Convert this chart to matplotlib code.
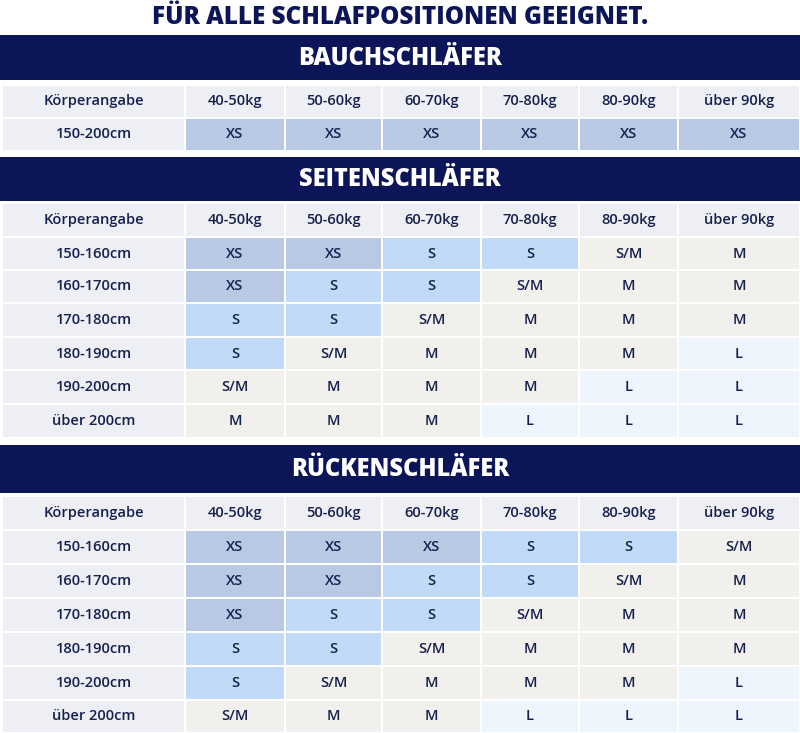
import matplotlib
matplotlib.use("Agg")
import matplotlib.pyplot as plt
from matplotlib.patches import Rectangle

title = "FÜR ALLE SCHLAFPOSITIONEN GEEIGNET."
weights = ["40-50kg", "50-60kg", "60-70kg", "70-80kg", "80-90kg", "über 90kg"]
corner = "Körperangabe"
bauch_name = "BAUCHSCHLÄFER"
bauch_heights = ["150-200cm"]
bauch_sizes = [["XS", "XS", "XS", "XS", "XS", "XS"]]
heights6 = ["150-160cm", "160-170cm", "170-180cm", "180-190cm", "190-200cm", "über 200cm"]
seiten_name = "SEITENSCHLÄFER"
seiten_sizes = [
    ["XS", "XS", "S", "S", "S/M", "M"],
    ["XS", "S", "S", "S/M", "M", "M"],
    ["S", "S", "S/M", "M", "M", "M"],
    ["S", "S/M", "M", "M", "M", "L"],
    ["S/M", "M", "M", "M", "L", "L"],
    ["M", "M", "M", "L", "L", "L"],
]
ruecken_name = "RÜCKENSCHLÄFER"
ruecken_sizes = [
    ["XS", "XS", "XS", "S", "S", "S/M"],
    ["XS", "XS", "S", "S", "S/M", "M"],
    ["XS", "S", "S", "S/M", "M", "M"],
    ["S", "S", "S/M", "M", "M", "M"],
    ["S", "S/M", "M", "M", "M", "L"],
    ["S/M", "M", "M", "L", "L", "L"],
]

colors = {"XS": "#b9c9e3", "S": "#c1daf8", "S/M": "#f1f0ec", "M": "#f1f0ec", "L": "#eef5fd"}
hdr = "#eeeff4"
navy = "#0b1558"
txt = "#16204f"
FONT = "Open Sans"

fig = plt.figure(figsize=(8, 7.33), dpi=100)
ax = fig.add_axes([0, 0, 1, 1])
ax.set_xlim(0, 800); ax.set_ylim(733, 0); ax.axis("off")

cols = [2, 185, 285, 382, 481, 579, 678, 800]
g = 2.5

def cell(x0, x1, y0, y1, color, text, fs=10.5):
    ax.add_patch(Rectangle((x0 + g / 2, y0 + g / 2), x1 - x0 - g, y1 - y0 - g, color=color, lw=0))
    ax.text((x0 + x1) / 2, (y0 + y1) / 2, text, ha="center", va="center",
            fontsize=fs, color=txt, fontweight="semibold", family=FONT)

def banner(y0, y1, name):
    ax.add_patch(Rectangle((0, y0), 800, y1 - y0, color=navy, lw=0))
    ax.text(400, (y0 + y1) / 2 + 1, name, ha="center", va="center", fontsize=17,
            color="white", fontweight="heavy", family=FONT)

def table(y_edges, heights, sizes):
    cell(cols[0], cols[1], y_edges[0], y_edges[1], hdr, corner)
    for j, w in enumerate(weights):
        cell(cols[j + 1], cols[j + 2], y_edges[0], y_edges[1], hdr, w)
    for i, h in enumerate(heights):
        y0, y1 = y_edges[i + 1], y_edges[i + 2]
        cell(cols[0], cols[1], y0, y1, hdr, h)
        for j, s in enumerate(sizes[i]):
            cell(cols[j + 1], cols[j + 2], y0, y1, colors[s], s)

ax.text(400, 18, title, ha="center", va="center", fontsize=17.5, color=navy,
        fontweight="heavy", family=FONT)
banner(35, 80, bauch_name)
table([85, 118, 151], bauch_heights, bauch_sizes)
banner(157, 201, seiten_name)
table([203, 237, 270, 303, 337, 370, 404, 438], heights6, seiten_sizes)
banner(445, 493, ruecken_name)
table([496, 530, 564, 598, 632, 666, 700, 733], heights6, ruecken_sizes)

fig.savefig("out.png", dpi=100, facecolor="white")
